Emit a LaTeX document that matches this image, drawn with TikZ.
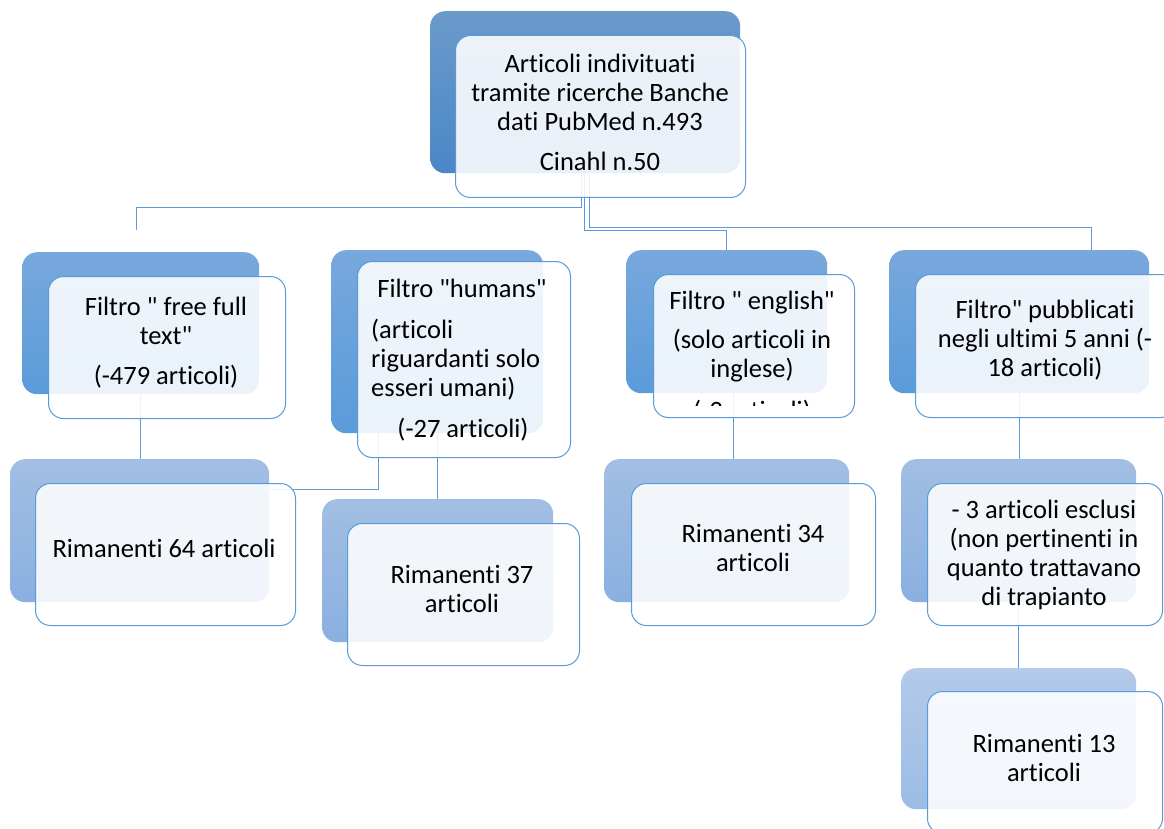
\documentclass[tikz,border=0pt]{standalone}
\usepackage{fontspec}
\setmainfont{Carlito}[Ligatures={TeXOff,NoCommon}]
\pgfdeclarelayer{bg}
\pgfsetlayers{bg,main}
\definecolor{linec}{HTML}{5B9BD5}
\definecolor{bordc}{HTML}{5B9BD5}
\definecolor{topA}{HTML}{6B9ACA}
\definecolor{topB}{HTML}{4A87C7}
\definecolor{lvA}{HTML}{78A8DC}
\definecolor{lvB}{HTML}{5A9BDA}
\definecolor{lwA}{HTML}{A2BEE3}
\definecolor{lwB}{HTML}{8AB0E0}
\definecolor{lxA}{HTML}{B3CAE9}
\definecolor{lxB}{HTML}{9CBCE5}
\tikzset{
  conn/.style={draw=linec, line width=1pt},
  backbox/.style n args={2}{rectangle, rounded corners=15pt, inner sep=0pt, anchor=north west, top color=#1, bottom color=#2, draw=none},
  frontbox/.style={rectangle, rounded corners=15pt, inner sep=0pt, anchor=north west, draw=bordc, line width=1pt, fill=white, fill opacity=0.88},
  txt/.style={anchor=north, inner sep=0pt, align=center, font=\fontsize{26.5}{29}\selectfont, text=black},
  txtl/.style={anchor=north west, inner sep=0pt, align=left, font=\fontsize{26.5}{29}\selectfont, text=black}
}
\begin{document}
\begin{tikzpicture}[x=1pt,y=-1pt]
\useasboundingbox (0,0) rectangle (1164,829);
% back boxes
\node[backbox={topA}{topB}, minimum width=310pt, minimum height=162pt] (tb) at (430,11) {};
\node[backbox={lvA}{lvB}, minimum width=237pt, minimum height=142pt] (b1) at (22,252) {};
\node[backbox={lvA}{lvB}, minimum width=212pt, minimum height=183pt] (b2) at (331,250) {};
\node[backbox={lvA}{lvB}, minimum width=201pt, minimum height=143pt] (b3) at (626,250) {};
\node[backbox={lvA}{lvB}, minimum width=260pt, minimum height=143pt] (b4) at (889,250) {};
\node[backbox={lwA}{lwB}, minimum width=259pt, minimum height=143pt] (r64b) at (10,459) {};
\node[backbox={lwA}{lwB}, minimum width=231pt, minimum height=143pt] (r37b) at (322,499) {};
\node[backbox={lwA}{lwB}, minimum width=245pt, minimum height=143pt] (r34b) at (604,459) {};
\node[backbox={lwA}{lwB}, minimum width=235pt, minimum height=143pt] (exb) at (901,459) {};
\node[backbox={lxA}{lxB}, minimum width=235pt, minimum height=141pt] (r13b) at (901,668) {};
% front boxes
\node[frontbox, minimum width=290pt, minimum height=162pt] (tf) at (455,35) {};
\node[frontbox, minimum width=237pt, minimum height=142pt] (f1) at (48,276) {};
\node[frontbox, minimum width=213pt, minimum height=196pt] (f2) at (357,261) {};
\node[frontbox, minimum width=201pt, minimum height=143pt] (f3) at (653,274) {};
\node[frontbox, minimum width=260pt, minimum height=143pt] (f4) at (915,274) {};
\node[frontbox, minimum width=260pt, minimum height=142pt] (r64f) at (35,483) {};
\node[frontbox, minimum width=232pt, minimum height=142pt] (r37f) at (347,523) {};
\node[frontbox, minimum width=244pt, minimum height=142pt] (r34f) at (631,483) {};
\node[frontbox, minimum width=235pt, minimum height=142pt] (exf) at (927,483) {};
\node[frontbox, minimum width=235pt, minimum height=142pt] (r13f) at (927,691) {};
% connectors
\coordinate (j1) at (581,208);
\coordinate (e1) at (136,230);
\coordinate (j2) at (584,230);
\coordinate (j3) at (589,227);
\coordinate (j4) at (1091,227);
\coordinate (j5) at (378,489);
\coordinate (j6) at (733,400);
\begin{pgfonlayer}{bg}
\fill[white] (0,0) rectangle (1164,829);
\draw[conn] (tb.south -| j1) -- (j1) -| (e1);
\draw[conn] (tb.south -| j2) -- (j2) -| (b3.north);
\draw[conn] (tb.south -| j3) -- (j3) -- (j4) -- (j4 |- b4.north);
\draw[conn] (b1.south) -- (b1.south |- r64b.north);
\draw[conn] (b2.south -| j5) -- (j5) -- (r64b.east |- j5);
\draw[conn] (b2.south) -- (b2.south |- r37b.north);
\draw[conn] (b3.south -| j6) -- (j6 |- r34b.north);
\draw[conn] (b4.south) -- (b4.south |- exb.north);
\draw[conn] (exb.south) -- (exb.south |- r13b.north);
\end{pgfonlayer}
% texts
\node[txt] (t0) at (600,52) {\strut Articoli indivituati\\tramite ricerche Banche\\dati PubMed n.493\\[11pt]Cinahl n.50};
\node[txt] (t1) at (166,295) {\strut Filtro " free full\\text"\\[11pt](-479 articoli)};
\node[txt] (t2a) at (462,277) {\strut Filtro "humans"};
\node[txtl] (t2b) at (371,318) {\strut (articoli\\riguardanti solo\\esseri umani)};
\node[txt] (t2c) at (463,417) {\strut (-27 articoli)};
\begin{scope}
\clip (640,270) rectangle (870,405);
\node[txt] (t3) at (752,289) {\strut Filtro " english"\\[10pt](solo articoli in\\inglese)\\[13pt](-3 articoli)};
\end{scope}
\node[txt] (t4) at (1045,298) {\strut Filtro" pubblicati\\negli ultimi 5 anni (-\\18 articoli)};
\node[txt] (t5) at (164,537) {\strut Rimanenti 64 articoli};
\node[txt] (t6) at (462,563) {\strut Rimanenti 37\\articoli};
\node[txt] (t7) at (753,522) {\strut Rimanenti 34\\articoli};
\node[txt] (t8) at (1044,498) {\strut - 3 articoli esclusi\\(non pertinenti in\\quanto trattavano\\di trapianto};
\node[txt] (t9) at (1044,732) {\strut Rimanenti 13\\articoli};
\end{tikzpicture}
\end{document}
